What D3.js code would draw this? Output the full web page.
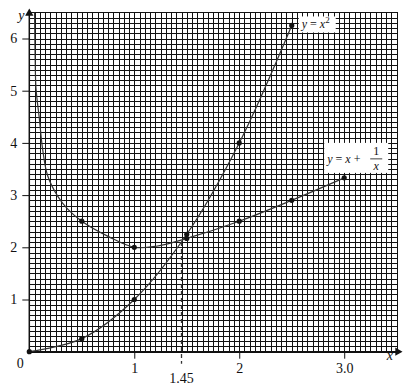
<!DOCTYPE html>
<html>
<head>
<meta charset="utf-8">
<script src="https://cdn.jsdelivr.net/npm/d3@7"></script>
<style>
  body { margin: 0; background: #fff; }
  svg text { font-family: "Liberation Serif", "Times New Roman", Times, serif; fill: #111; }
</style>
</head>
<body>
<div id="chart"></div>
<script>
// dots on y = x^2
var squareX = [0, 0.5, 1, 1.5, 2, 2.5];
var squareY = [0, 0.25, 1, 2.25, 4, 6.25];
// dots on y = x + 1/x
var recipX = [0.5, 1, 1.5, 2, 2.5, 3];
var recipY = [2.5, 2, 2.17, 2.5, 2.9, 3.33];
// drawn curve of y = x + 1/x
var recipCurveX = [0.05, 0.056, 0.064, 0.096, 0.127, 0.175, 0.27, 0.366, 0.5, 0.76, 1, 1.21, 1.5, 2, 2.5, 3];
var recipCurveY = [6.5, 5.6, 5.04, 4.46, 3.88, 3.37, 2.98, 2.73, 2.5, 2.2, 2, 2.02, 2.17, 2.5, 2.9, 3.33];
var xTicks = [1, 2, 3];
var xTickLabels = ["1", "2", "3.0"];
var yTicks = [1, 2, 3, 4, 5, 6];
var markX = 1.45;

function drawGraph() {
  var margin = { top: 12.4, left: 29.3 };
  var width = 367.4, height = 339.3;

  var svg = d3.select("#chart").append("svg")
    .attr("width", 415).attr("height", 390);
  var g = svg.append("g")
    .attr("transform", "translate(" + margin.left + "," + margin.top + ")");

  var x = d3.scaleLinear().domain([0, 3.5]).range([0, width]);
  var y = d3.scaleLinear().domain([0, 6.5]).range([height, 0]);

  // graph paper grid
  g.append("g")
    .attr("class", "grid")
    .attr("transform", "translate(0," + height + ")")
    .call(d3.axisBottom(x).tickValues(d3.range(71).map(i => i * 0.05)).tickSize(-height).tickFormat(""))
    .call(s => s.select(".domain").remove());
  g.append("g")
    .attr("class", "grid")
    .call(d3.axisLeft(y).tickValues(d3.range(66).map(i => i * 0.1)).tickSize(-width).tickFormat(""))
    .call(s => s.select(".domain").remove());
  g.selectAll(".grid line").attr("stroke", "#111").attr("stroke-width", 1).attr("shape-rendering", "crispEdges");

  // axes
  var xAxis = g.append("g").attr("transform", "translate(0," + height + ")")
    .call(d3.axisBottom(x).tickValues(xTicks).tickSize(7).tickPadding(4).tickFormat((d, i) => xTickLabels[i]));
  xAxis.attr("font-family", null);
  xAxis.select(".domain").remove();
  xAxis.selectAll("line").attr("stroke", "#111");
  xAxis.selectAll("text").attr("font-size", 14).attr("fill", "#111");

  var yAxis = g.append("g")
    .call(d3.axisLeft(y).tickValues(yTicks).tickSize(7).tickPadding(5).tickFormat(d3.format("d")));
  yAxis.attr("font-family", null);
  yAxis.select(".domain").remove();
  yAxis.selectAll("line").attr("stroke", "#111");
  yAxis.selectAll("text").attr("font-size", 14).attr("fill", "#111");

  g.append("line").attr("x1", 0).attr("x2", width).attr("y1", height).attr("y2", height)
    .attr("stroke", "#111").attr("stroke-width", 1.5);
  g.append("line").attr("x1", 0).attr("x2", 0).attr("y1", 0).attr("y2", height)
    .attr("stroke", "#111").attr("stroke-width", 1.5);
  g.append("path").attr("d", d3.symbol(d3.symbolTriangle, 30)())
    .attr("transform", "translate(" + (width + 1) + "," + height + ") rotate(90)").attr("fill", "#111");
  g.append("path").attr("d", d3.symbol(d3.symbolTriangle, 30)())
    .attr("transform", "translate(0,1)").attr("fill", "#111");

  g.append("text").attr("x", -11).attr("y", 8).attr("font-size", 14).style("font-style", "italic").text("y");
  g.append("text").attr("x", width - 10).attr("y", height + 8).attr("font-size", 14).style("font-style", "italic").text("x");
  g.append("text").attr("x", -9).attr("y", height + 16).attr("text-anchor", "middle").attr("font-size", 14).text("0");

  // dashed marker at x = 1.45
  g.append("line")
    .attr("x1", x(markX)).attr("x2", x(markX))
    .attr("y1", y(2.1)).attr("y2", height + 12)
    .attr("stroke", "#333").attr("stroke-width", 1.3).attr("stroke-dasharray", "4,3");
  g.append("text").attr("x", x(markX)).attr("y", height + 31)
    .attr("text-anchor", "middle").attr("font-size", 14).text(markX.toFixed(2));

  // curves
  var line = d3.line().x(d => x(d[0])).y(d => y(d[1])).curve(d3.curveCatmullRom);
  g.append("path")
    .attr("d", line(squareX.map((v, i) => [v, squareY[i]])))
    .attr("fill", "none").attr("stroke", "#333").attr("stroke-width", 1.2);
  g.append("path")
    .attr("d", line(recipCurveX.map((v, i) => [v, recipCurveY[i]])))
    .attr("fill", "none").attr("stroke", "#333").attr("stroke-width", 1.2);

  g.selectAll(".dot-sq").data(squareX).enter().append("circle")
    .attr("cx", d => x(d)).attr("cy", (d, i) => y(squareY[i])).attr("r", 2.6).attr("fill", "#111");
  g.selectAll(".dot-rc").data(recipX).enter().append("circle")
    .attr("cx", d => x(d)).attr("cy", (d, i) => y(recipY[i])).attr("r", 2.6).attr("fill", "#111");

  // label y = x^2
  var l1 = g.append("g").attr("transform", "translate(" + (x(2.5) + 7) + "," + (y(6.25) - 9) + ")");
  l1.append("rect").attr("width", 37).attr("height", 16).attr("fill", "#fff");
  var t1 = l1.append("text").attr("x", 3).attr("y", 12).attr("font-size", 12);
  t1.append("tspan").style("font-style", "italic").text("y");
  t1.append("tspan").text(" = ");
  t1.append("tspan").style("font-style", "italic").text("x");
  t1.append("tspan").attr("dy", -5).attr("font-size", 9).text("2");

  // label y = x + 1/x
  var l2 = g.append("g").attr("transform", "translate(" + (x(2.8) + 1) + "," + (y(3.33) - 35) + ")");
  l2.append("rect").attr("width", 64).attr("height", 30).attr("fill", "#fff");
  var t2 = l2.append("text").attr("x", 3).attr("y", 20).attr("font-size", 12);
  t2.append("tspan").style("font-style", "italic").text("y");
  t2.append("tspan").text(" = ");
  t2.append("tspan").style("font-style", "italic").text("x");
  t2.append("tspan").text(" + ");
  l2.append("text").attr("x", 52).attr("y", 12).attr("text-anchor", "middle").attr("font-size", 12).text("1");
  l2.append("line").attr("x1", 46).attr("x2", 58).attr("y1", 16).attr("y2", 16).attr("stroke", "#111").attr("stroke-width", 0.8);
  l2.append("text").attr("x", 52).attr("y", 27).attr("text-anchor", "middle").attr("font-size", 12)
    .style("font-style", "italic").text("x");
}

window.onload = drawGraph;
</script>
</body>
</html>
